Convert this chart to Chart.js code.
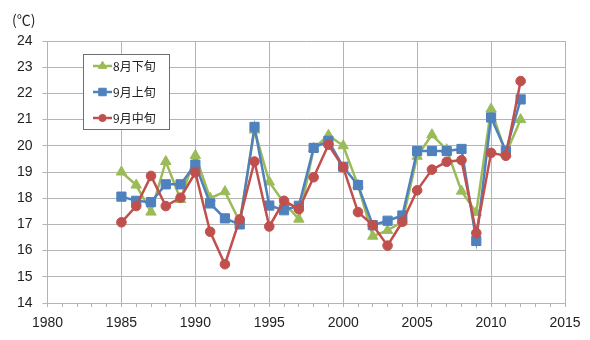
<!DOCTYPE html>
<html>
<head>
<meta charset="utf-8">
<script src="https://cdn.jsdelivr.net/npm/chart.js@4.4.1/dist/chart.umd.min.js"></script>
<style>
  body { margin: 0; background: #fff; }
  #wrap { width: 590px; height: 340px; }
</style>
</head>
<body>
<div id="wrap"><canvas id="canvas_temp" width="590" height="340"></canvas></div>
<script>
// 旬別平均気温（℃）
const years = [
  1985, 1986, 1987, 1988, 1989, 1990, 1991, 1992, 1993, 1994, 1995, 1996, 1997, 1998,
  1999, 2000, 2001, 2002, 2003, 2004, 2005, 2006, 2007, 2008, 2009, 2010, 2011, 2012,
];
const augLate = [
  19.0, 18.5, 17.47, 19.4, 17.95, 19.63, 18.0, 18.25, 17.1, 20.6, 18.62, 17.82, 17.2, 19.9,
  20.4, 20.0, 18.5, 16.55, 16.77, 17.1, 19.6, 20.42, 19.85, 18.27, 17.46, 21.4, 19.7, 21.0,
];
const sepEarly = [
  18.06, 17.9, 17.85, 18.53, 18.53, 19.28, 17.8, 17.23, 17.0, 20.72, 17.72, 17.54, 17.71, 19.92,
  20.19, 19.2, 18.5, 16.97, 17.14, 17.34, 19.8, 19.8, 19.8, 19.88, 16.37, 21.08, 19.8, 21.77,
];
const sepMid = [
  17.08, 17.7, 18.85, 17.7, 18.02, 18.98, 16.72, 15.48, 17.19, 19.4, 16.92, 17.9, 17.58, 18.8,
  20.04, 19.18, 17.47, 16.97, 16.19, 17.1, 18.3, 19.09, 19.39, 19.45, 16.67, 19.73, 19.62, 22.47,
];
const seriesNames = ["8月下旬", "9月上旬", "9月中旬"];
const yTicks = [14, 15, 16, 17, 18, 19, 20, 21, 22, 23, 24];
const xLabels = [1980, 1985, 1990, 1995, 2000, 2005, 2010, 2015];

const gridGray = "#b4b4b4";
const tickFont = { family: "'Liberation Sans', Arial, sans-serif", size: 14 };

const toPoints = (vals) => vals.map((v, i) => ({ x: years[i], y: v }));

// order: 小さいほど手前に描かれる
const makeSet = (label, vals, color, style, radius, order) => ({
  label: label,
  data: toPoints(vals),
  borderColor: color,
  backgroundColor: color,
  borderWidth: 2.5,
  pointStyle: style,
  pointRadius: radius,
  pointBorderWidth: 1,
  pointHoverRadius: radius,
  tension: 0,
  order: order,
});

// 凡例（枠付き）と単位表示
const boxLegend = {
  id: "boxLegend",
  afterDraw(chart) {
    const ctx = chart.ctx;
    ctx.save();
    ctx.font = "14px 'Noto Sans CJK JP', sans-serif";
    ctx.fillStyle = "#222";
    ctx.textBaseline = "middle";
    ctx.textAlign = "left";
    ctx.fillText("(℃)", 12, 20);

    ctx.fillStyle = "#fff";
    ctx.fillRect(83.5, 54.5, 86, 75);
    ctx.strokeStyle = "#6e6e6e";
    ctx.lineWidth = 1;
    ctx.strokeRect(83.5, 54.5, 86, 75);

    const rows = [66, 92, 118];
    chart.data.datasets.forEach((ds, i) => {
      const y = rows[i];
      ctx.strokeStyle = ds.borderColor;
      ctx.fillStyle = ds.backgroundColor;
      ctx.lineWidth = 2.5;
      ctx.beginPath();
      ctx.moveTo(93, y);
      ctx.lineTo(112, y);
      ctx.stroke();
      ctx.lineWidth = 1;
      Chart.helpers.drawPoint(ctx, { pointStyle: ds.pointStyle, radius: ds.pointRadius - 1.2, rotation: 0, borderWidth: 1 }, 102.5, y);
      ctx.fillStyle = "#222";
      ctx.font = "12px 'Noto Sans CJK JP', sans-serif";
      ctx.fillText(ds.label, 113, y);
    });
    ctx.restore();
  },
};

const ctx = document.getElementById("canvas_temp").getContext("2d");
const tempChart = new Chart(ctx, {
  type: "line",
  data: {
    datasets: [
      makeSet(seriesNames[0], augLate, "#9bbb59", "triangle", 6, 3),
      makeSet(seriesNames[1], sepEarly, "#4f81bd", "rect", 6.5, 2),
      makeSet(seriesNames[2], sepMid, "#c0504d", "circle", 4.8, 1),
    ],
  },
  options: {
    responsive: false,
    animation: false,
    layout: { padding: { top: 41, right: 25, left: 0, bottom: 0 } },
    plugins: {
      legend: { display: false },
      tooltip: { enabled: false },
    },
    scales: {
      x: {
        type: "linear",
        min: xLabels[0],
        max: xLabels[xLabels.length - 1],
        afterBuildTicks: (scale) => {
          const t = [];
          for (let v = scale.min; v <= scale.max; v++) t.push({ value: v });
          scale.ticks = t;
        },
        afterFit: (scale) => { scale.height = 37; },
        ticks: {
          autoSkip: false,
          maxRotation: 0,
          padding: 8,
          color: "#222",
          font: tickFont,
          callback: (v) => (xLabels.includes(v) ? String(v) : ""),
        },
        grid: {
          color: (c) => (c.tick && xLabels.includes(c.tick.value) ? gridGray : "rgba(0,0,0,0)"),
          tickColor: gridGray,
          tickLength: 4,
          lineWidth: 1,
        },
        border: { color: gridGray },
      },
      y: {
        min: yTicks[0],
        max: yTicks[yTicks.length - 1],
        afterBuildTicks: (scale) => { scale.ticks = yTicks.map((v) => ({ value: v })); },
        afterFit: (scale) => { scale.width = 47.5; },
        ticks: {
          padding: 10,
          color: "#222",
          font: tickFont,
        },
        grid: {
          color: gridGray,
          tickColor: gridGray,
          tickLength: 5,
        },
        border: { color: gridGray },
      },
    },
  },
  plugins: [boxLegend],
});
</script>
</body>
</html>
